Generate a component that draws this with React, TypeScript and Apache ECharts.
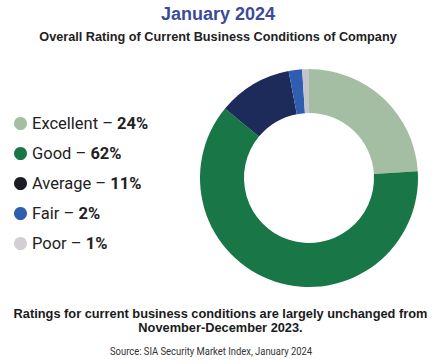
import React, { useEffect, useRef } from "react";
import * as echarts from "echarts";

const categories = ["Excellent", "Good", "Average", "Fair", "Poor"];
const values = [24, 62, 11, 2, 1];
const sliceColors = ["#a3bea3", "#197646", "#1c2b5a", "#2f5db0", "#c3c5ca"];
const legendColors = ["#a3bea3", "#197646", "#1c1c26", "#2f5db0", "#d4cdd6"];

const titleText = "January 2024";
const subtitleText = "Overall Rating of Current Business Conditions of Company";
const noteLines = [
  "Ratings for current business conditions are largely unchanged from",
  "November-December 2023.",
];
const sourceText = "Source: SIA Security Market Index, January 2024";

const narrow = '"Roboto", sans-serif';
const sans = '"Liberation Sans", Arial, sans-serif';

export default function App() {
  const ref = useRef<HTMLDivElement>(null);
  useEffect(() => {
    if (!ref.current) return;
    const chart = echarts.init(ref.current, null, { renderer: "svg" });
    chart.setOption({
      animation: false,
      backgroundColor: "#ffffff",
      title: [
        {
          text: titleText,
          left: 213,
          top: 0,
          textAlign: "center",
          textStyle: { fontFamily: sans, fontSize: 18, fontWeight: "bold", color: "#3b4b9b" },
        },
        {
          text: subtitleText,
          left: 213,
          top: 25,
          textAlign: "center",
          textStyle: { fontFamily: sans, fontSize: 12.7, fontWeight: "bold", color: "#222222" },
        },
      ],
      legend: {
        orient: "vertical",
        left: 9,
        top: 111,
        icon: "circle",
        itemWidth: 13,
        itemHeight: 13,
        itemGap: 13,
        padding: [4, 5],
        selectedMode: false,
        data: categories.map((c, i) => ({ name: c, itemStyle: { color: legendColors[i] } })),
        formatter: (name: string) => {
          const i = categories.indexOf(name);
          return `{n|${name} – }{b|${values[i]}%}`;
        },
        textStyle: {
          rich: {
            n: { fontFamily: narrow, fontSize: 16.5, color: "#222222" },
            b: { fontFamily: narrow, fontSize: 16.5, fontWeight: "bold", color: "#222222" },
          },
        },
      },
      graphic: [
        ...noteLines.map((t, i) => ({
          type: "text",
          left: "center",
          top: 307 + i * 14,
          style: { text: t, fontFamily: sans, fontSize: 12.8, fontWeight: "bold", fill: "#1a1a1a" },
        })),
        {
          type: "text",
          x: 110,
          y: 345,
          scaleX: 0.82,
          style: { text: sourceText, fontFamily: narrow, fontSize: 11.5, fill: "#333333" },
        },
      ],
      series: [
        {
          type: "pie",
          center: [309, 178],
          radius: [65, 109],
          startAngle: 90,
          clockwise: true,
          label: { show: false },
          labelLine: { show: false },
          silent: true,
          data: categories.map((c, i) => ({
            name: c,
            value: values[i],
            itemStyle: { color: sliceColors[i] },
          })),
        },
      ],
    });
    return () => chart.dispose();
  }, []);
  return (
    <div
      ref={ref}
      style={{ position: "absolute", left: 0, top: 0, width: 441, height: 364 }}
    />
  );
}
